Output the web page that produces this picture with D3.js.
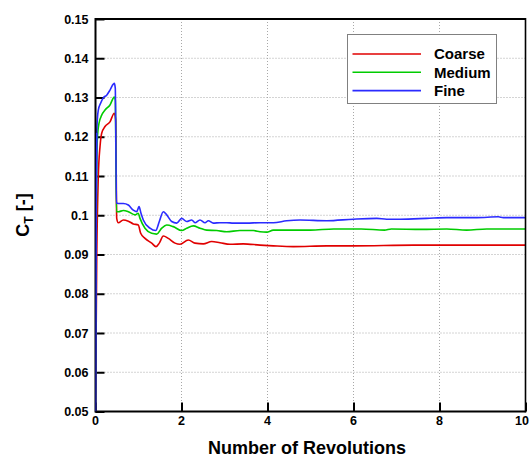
<!DOCTYPE html>
<html>
<head>
<meta charset="utf-8">
<script src="https://cdn.jsdelivr.net/npm/d3@7"></script>
<style>
  html, body { margin: 0; padding: 0; background: #fff; }
  svg { display: block; font-family: "Liberation Sans", Arial, sans-serif; font-weight: bold; }
</style>
</head>
<body>
<svg id="chart" width="530" height="457"></svg>
<script>
// Thrust coefficient history for three grid resolutions
const seriesNames = ["Coarse", "Medium", "Fine"];
const seriesColors = ["#e00000", "#00cc00", "#2b2bff"];

const coarse = [
  [0, 0.05], [0.03, 0.09], [0.065, 0.1098], [0.105, 0.1175], [0.144, 0.1209], [0.221, 0.1226],
  [0.337, 0.1238], [0.437, 0.1260], [0.47, 0.1243], [0.493, 0.0992], [0.53, 0.0981],
  [0.647, 0.0988], [0.763, 0.0985], [0.879, 0.0978], [0.995, 0.0975], [1.051, 0.0954],
  [1.151, 0.0941], [1.307, 0.0929], [1.407, 0.0920], [1.484, 0.0929], [1.577, 0.0947],
  [1.693, 0.0941], [1.849, 0.0929], [1.965, 0.0926], [2.158, 0.0937], [2.314, 0.0929],
  [2.507, 0.0927], [2.702, 0.0933], [2.895, 0.0930], [3.128, 0.0926], [3.437, 0.0927],
  [3.826, 0.0924], [4.135, 0.0922], [4.6, 0.0920], [5.377, 0.0922], [6.0, 0.0922],
  [7.4, 0.0924], [8.3, 0.0924], [10, 0.0924]
];
const medium = [
  [0, 0.05], [0.02, 0.1], [0.042, 0.1192], [0.081, 0.1234], [0.144, 0.1255], [0.221, 0.1268],
  [0.337, 0.1281], [0.437, 0.1301], [0.46, 0.1294], [0.488, 0.1009], [0.53, 0.1009],
  [0.647, 0.1012], [0.763, 0.1009], [0.919, 0.1001], [0.995, 0.1005], [1.035, 0.0992],
  [1.151, 0.0967], [1.307, 0.0954], [1.423, 0.0952], [1.54, 0.0967], [1.656, 0.0975],
  [1.809, 0.0971], [2.005, 0.0961], [2.121, 0.0967], [2.274, 0.0973], [2.43, 0.0967],
  [2.586, 0.0962], [2.819, 0.0961], [3.051, 0.0958], [3.36, 0.0961], [3.67, 0.0961],
  [3.826, 0.0958], [3.98, 0.0957], [4.135, 0.0962], [4.447, 0.0962], [5.0, 0.0962],
  [5.54, 0.0965], [6.18, 0.0965], [6.72, 0.0962], [6.88, 0.0965], [7.58, 0.0964],
  [8.17, 0.0965], [8.63, 0.0962], [9.1, 0.0965], [10, 0.0965]
];
const fine = [
  [0, 0.05], [0.012, 0.095], [0.028, 0.1210], [0.065, 0.1268], [0.121, 0.1286], [0.181, 0.1299],
  [0.26, 0.1306], [0.337, 0.1319], [0.414, 0.1334], [0.437, 0.1336], [0.46, 0.1324],
  [0.488, 0.1031], [0.53, 0.1030], [0.647, 0.1030], [0.763, 0.1026], [0.879, 0.1013],
  [0.958, 0.1009], [1.012, 0.1022], [1.058, 0.1005], [1.112, 0.0988], [1.267, 0.0967],
  [1.4, 0.0961], [1.484, 0.0984], [1.577, 0.1009], [1.656, 0.1001], [1.772, 0.0984],
  [1.888, 0.0980], [2.005, 0.0992], [2.121, 0.0984], [2.237, 0.0988], [2.314, 0.0981],
  [2.43, 0.0988], [2.547, 0.0981], [2.623, 0.0986], [2.74, 0.0980], [2.895, 0.0981],
  [3.05, 0.0981], [3.205, 0.0980], [3.516, 0.0980], [3.826, 0.0981], [4.135, 0.0981],
  [4.447, 0.0986], [4.756, 0.0988], [5.377, 0.0986], [5.995, 0.0990], [6.54, 0.0992],
  [6.772, 0.0990], [7.081, 0.0990], [7.702, 0.0992], [8.167, 0.0994], [8.865, 0.0994],
  [9.367, 0.0996], [9.484, 0.0994], [10, 0.0994]
];
const seriesData = [coarse, medium, fine];

const xTicks = [0, 2, 4, 6, 8, 10];
const yTicks = [0.05, 0.06, 0.07, 0.08, 0.09, 0.1, 0.11, 0.12, 0.13, 0.14, 0.15];
const xTitle = "Number of Revolutions";

const svg = d3.select("#chart");
const plotLeft = 95.5, plotRight = 525.5, plotTop = 19, plotBottom = 411.5;

const x = d3.scaleLinear().domain([0, 10]).range([plotLeft, plotRight]);
const y = d3.scaleLinear().domain([0.05, 0.15]).range([plotBottom, plotTop]);

// dotted grid
const grid = svg.append("g");
grid.selectAll("line.gx").data(xTicks.filter(d => d > 0 && d < 10)).join("line")
  .attr("x1", d => x(d)).attr("x2", d => x(d))
  .attr("y1", plotTop).attr("y2", plotBottom)
  .attr("stroke", "#a8a8a8").attr("stroke-width", 1).attr("stroke-dasharray", "1,2");
grid.selectAll("line.gy").data(yTicks.filter(d => d > 0.05 && d < 0.15)).join("line")
  .attr("x1", plotLeft).attr("x2", plotRight)
  .attr("y1", d => y(d)).attr("y2", d => y(d))
  .attr("stroke", "#a8a8a8").attr("stroke-width", 1).attr("stroke-dasharray", "1,2");

// axes with inward ticks
const fmtY = d => d === 0.1 ? "0.1" : d3.format(".2f")(d);
const yAxis = svg.append("g").attr("transform", `translate(${plotLeft},0)`)
  .call(d3.axisRight(y).tickValues(yTicks).tickSize(9).tickFormat(""));
yAxis.select(".domain").remove();
yAxis.selectAll(".tick line").attr("stroke", "#000").attr("stroke-width", 2);

const xAxis = svg.append("g").attr("transform", `translate(0,${plotBottom})`)
  .call(d3.axisTop(x).tickValues(xTicks).tickSize(9).tickFormat(""));
xAxis.select(".domain").remove();
xAxis.selectAll(".tick line").attr("stroke", "#000").attr("stroke-width", 2);

// tick labels (the last x label is kept inside the page edge)
svg.append("g").selectAll("text").data(yTicks).join("text")
  .attr("x", plotLeft - 7).attr("y", d => y(d)).attr("dy", "0.36em")
  .attr("text-anchor", "end").attr("font-size", 12.5).attr("fill", "#000")
  .text(fmtY);
svg.append("g").selectAll("text").data(xTicks).join("text")
  .attr("x", d => Math.min(x(d), 522)).attr("y", 425)
  .attr("text-anchor", "middle").attr("font-size", 12.5).attr("fill", "#000")
  .text(d => d);

// curves
svg.append("clipPath").attr("id", "plotclip").append("rect")
  .attr("x", plotLeft).attr("y", plotTop).attr("width", plotRight - plotLeft).attr("height", plotBottom - plotTop);
const line = d3.line().x(d => x(d[0])).y(d => y(d[1])).curve(d3.curveMonotoneX);
svg.append("g").attr("clip-path", "url(#plotclip)")
  .selectAll("path").data(seriesData).join("path")
  .attr("d", line).attr("fill", "none")
  .attr("stroke", (d, i) => seriesColors[i]).attr("stroke-width", 1.6)
  .attr("stroke-linejoin", "round");

// frame
svg.append("line").attr("x1", plotLeft).attr("x2", plotRight).attr("y1", plotTop).attr("y2", plotTop)
  .attr("stroke", "#000").attr("stroke-width", 2);
svg.append("line").attr("x1", plotLeft).attr("x2", plotRight).attr("y1", plotBottom).attr("y2", plotBottom)
  .attr("stroke", "#000").attr("stroke-width", 2);
svg.append("line").attr("x1", plotLeft).attr("x2", plotLeft).attr("y1", plotTop - 1).attr("y2", plotBottom + 1)
  .attr("stroke", "#000").attr("stroke-width", 2);
svg.append("line").attr("x1", plotRight).attr("x2", plotRight).attr("y1", plotTop - 1).attr("y2", plotBottom + 1)
  .attr("stroke", "#000").attr("stroke-width", 1.6);

// redraw the fine curve's rise over the left axis
svg.append("g").attr("clip-path", "url(#plotclip)")
  .append("path").datum(fine.slice(0, 3)).attr("d", line).attr("fill", "none")
  .attr("stroke", seriesColors[2]).attr("stroke-width", 1.6);

// axis titles
svg.append("text").attr("x", 307).attr("y", 454).attr("text-anchor", "middle")
  .attr("font-size", 18).attr("fill", "#000").text(xTitle);
const yt = svg.append("text").attr("transform", "translate(29,215) rotate(-90)")
  .attr("text-anchor", "middle").attr("font-size", 18).attr("fill", "#000");
yt.append("tspan").text("C");
yt.append("tspan").attr("font-size", 12).attr("dy", 4).text("T");
yt.append("tspan").attr("dy", -4).text(" [-]");

// legend
const lg = svg.append("g");
lg.append("rect").attr("x", 347.5).attr("y", 34.5).attr("width", 149).attr("height", 69)
  .attr("fill", "#fff").attr("stroke", "#808080").attr("stroke-width", 1);
const legendY = [54, 72.3, 90.6];
seriesNames.forEach((name, i) => {
  lg.append("line").attr("x1", 352.5).attr("x2", 421).attr("y1", legendY[i]).attr("y2", legendY[i])
    .attr("stroke", seriesColors[i]).attr("stroke-width", 1.6);
  lg.append("text").attr("x", 434).attr("y", legendY[i] + 5.3)
    .attr("font-size", 15).attr("fill", "#000").text(name);
});
</script>
</body>
</html>
